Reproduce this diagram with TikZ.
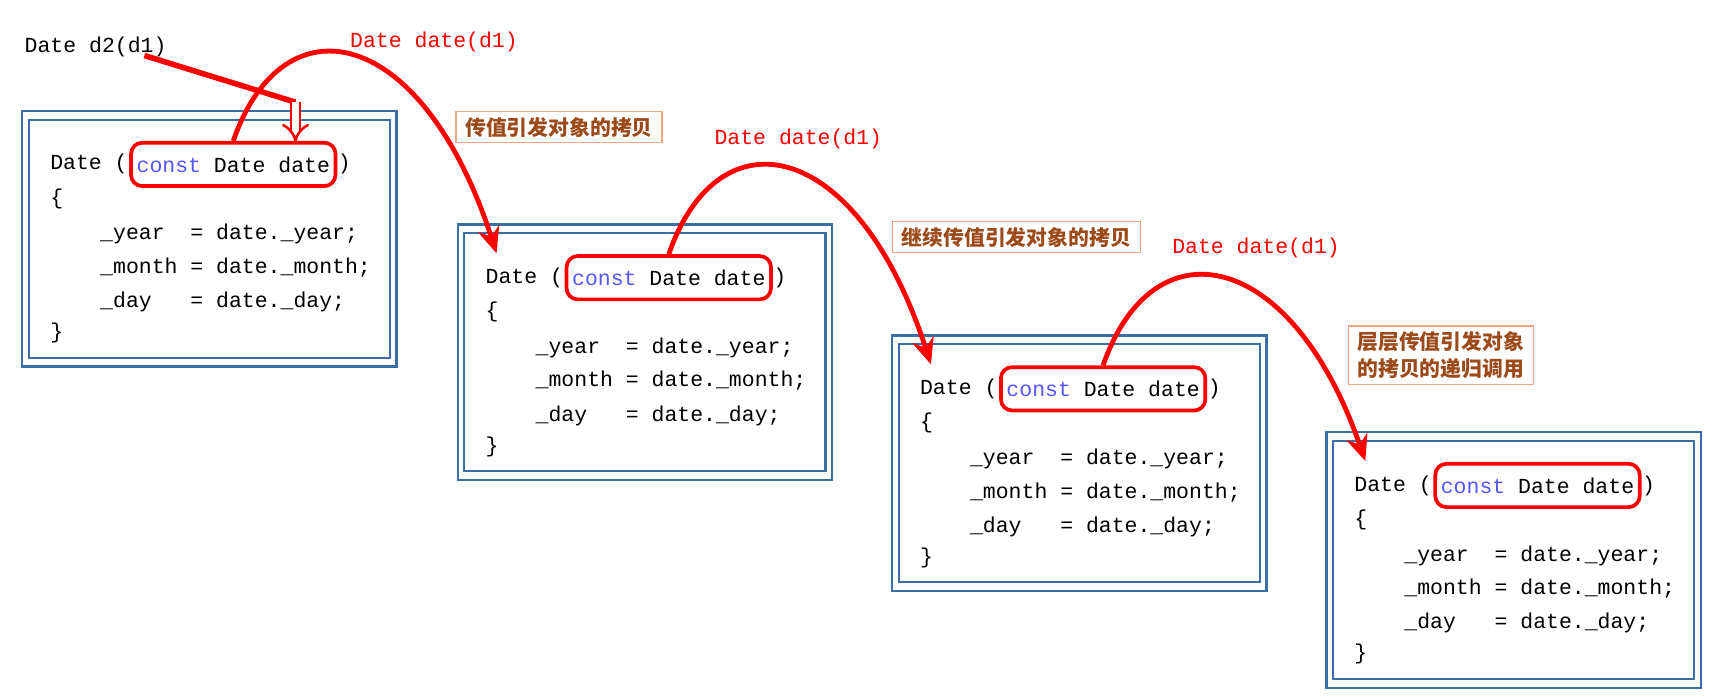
\documentclass[tikz,border=0pt]{standalone}
\usepackage{fontspec}
\usetikzlibrary{arrows.meta,calc}
\newfontfamily\codefont{Liberation Mono}
\newfontfamily\cjk{Noto Sans CJK SC}
\definecolor{boxblue}{HTML}{3A6EA5}
\definecolor{cst}{HTML}{5555FF}
\definecolor{notebrown}{HTML}{9C4A1A}
\definecolor{noteborder}{HTML}{F4A582}
\tikzset{
  code/.style={font=\codefont\fontsize{16.5}{18}\selectfont, anchor=west, inner sep=0pt},
  param/.style={code, anchor=center, draw=red, line width=1mm, rounded corners=3mm, minimum width=55.2mm, minimum height=11.7mm},
  frame/.style={draw=boxblue, line width=0.6mm},
  redlab/.style={code, text=red},
  note/.style={draw=noteborder, line width=0.3mm, font=\cjk\bfseries\fontsize{16}{21}\selectfont, text=notebrown, inner xsep=2.5mm, inner ysep=1.5mm, align=left},
  call/.style={draw=red, line width=1.3mm, -{Stealth[length=7mm,width=6mm]}},
}
\newcommand{\codebox}[3]{%
  \draw[frame] (#2-25,#3-48) rectangle (#2+312,#3+182);
  \draw[frame] (#2-19,#3-40) rectangle (#2+306,#3+174);
  \node[code] (#1-a) at (#2,#3) {Date (};
  \node[param] (#1-p) at (#2+165,#3) {\textcolor{cst}{const} Date date};
  \node[code] (#1-b) at (#2+259,#3) {)};
  \node[code] (#1-c) at (#2,#3+31) {\{};
  \node[code] (#1-y) at (#2+45,#3+63) {\_year\ \ = date.\_year;};
  \node[code] (#1-m) at (#2+45,#3+93) {\_month = date.\_month;};
  \node[code] (#1-d) at (#2+45,#3+124) {\_day\ \ \ = date.\_day;};
  \node[code] (#1-e) at (#2,#3+152) {\}};
  \coordinate (#1-in) at (#2+10,#3-22);
}
\begin{document}
\begin{tikzpicture}[x=0.3mm,y=-0.3mm]
\useasboundingbox[fill=white] (0,0) rectangle (1560,629);
\codebox{b1}{45}{148}
\codebox{b2}{437}{250}
\codebox{b3}{828}{350}
\codebox{b4}{1219}{437}
\node[code] (d2) at (22,42) {Date d2(d1)};
\node[redlab] (l1) at (315,38) {Date date(d1)};
\node[redlab] (l2) at (643,125) {Date date(d1)};
\node[redlab] (l3) at (1055,223) {Date date(d1)};
\node[note, anchor=north west] (n1) at (410,100) {传值引发对象的拷贝};
\node[note, anchor=north west] (n2) at (803,199) {继续传值引发对象的拷贝};
\node[note, anchor=north west] (n3) at (1213,293) {层层传值引发对象\\的拷贝的递归调用};
% calls
\coordinate (s) at (130,50);
\coordinate (k) at (266,92);
\draw[red, line width=1.5mm] (s) -- (k);
\draw[red, line width=0.7mm, double, double distance=1.8mm, -{Implies[length=5mm]}] (k) -- (266,128);
\draw[call] (b1-p.north) .. controls ($(b1-p.north)+(45,-130)$) and ($(b1-p.north)+(170,-105)$) .. (b2-in);
\draw[call] (b2-p.north) .. controls ($(b2-p.north)+(45,-130)$) and ($(b2-p.north)+(170,-105)$) .. (b3-in);
\draw[call] (b3-p.north) .. controls ($(b3-p.north)+(45,-130)$) and ($(b3-p.north)+(170,-105)$) .. (b4-in);
\end{tikzpicture}
\end{document}
